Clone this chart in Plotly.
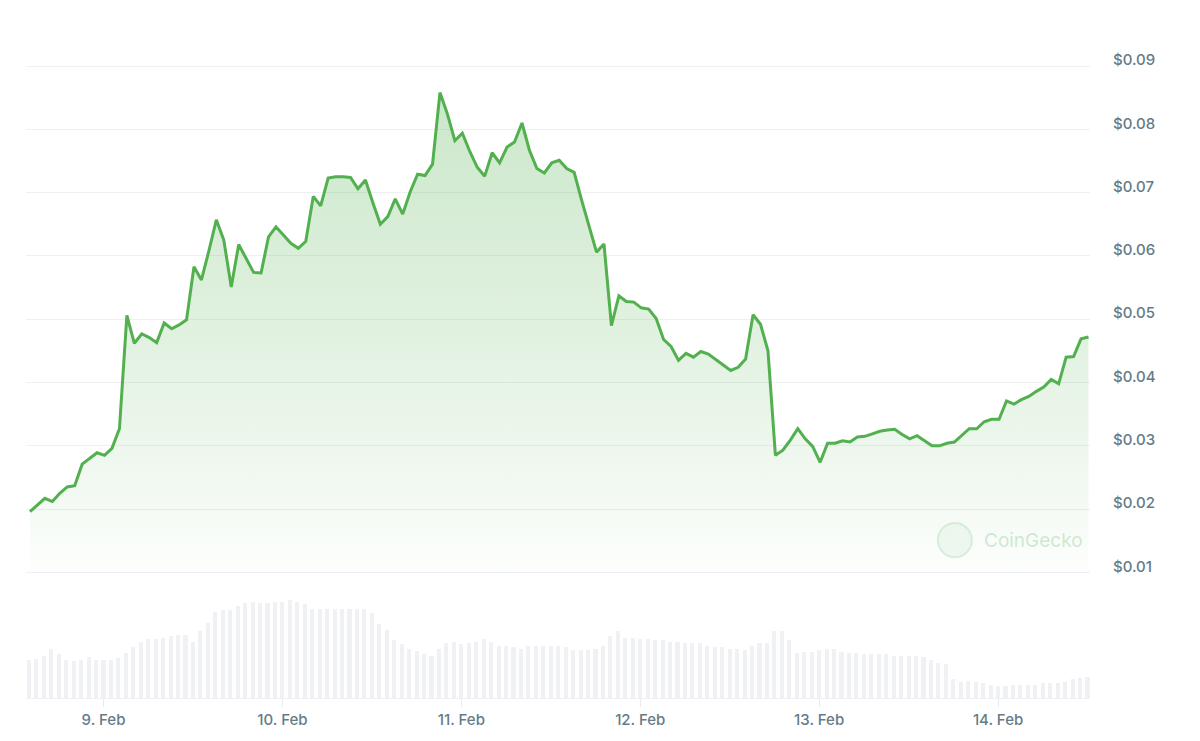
import plotly.graph_objects as go
import pandas as pd

# Hourly price (USD)
price = [
    0.0196, 0.0207, 0.0217, 0.0212, 0.0225, 0.0235, 0.0237, 0.0271, 0.0280, 0.0289,
    0.0285, 0.0296, 0.0327, 0.0506, 0.0462, 0.0477, 0.0471, 0.0463, 0.0494, 0.0485,
    0.0491, 0.0499, 0.0583, 0.0562, 0.0608, 0.0657, 0.0625, 0.0551, 0.0618, 0.0597,
    0.0574, 0.0573, 0.0630, 0.0646, 0.0633, 0.0620, 0.0612, 0.0623, 0.0694, 0.0679,
    0.0723, 0.0725, 0.0725, 0.0724, 0.0706, 0.0720, 0.0684, 0.0650, 0.0662, 0.0690,
    0.0666, 0.0701, 0.0729, 0.0727, 0.0745, 0.0858, 0.0824, 0.0782, 0.0794, 0.0765,
    0.0740, 0.0726, 0.0763, 0.0747, 0.0772, 0.0780, 0.0810, 0.0767, 0.0738, 0.0731,
    0.0747, 0.0751, 0.0738, 0.0732, 0.0688, 0.0648, 0.0606, 0.0619, 0.0490, 0.0537,
    0.0528, 0.0527, 0.0518, 0.0516, 0.0501, 0.0468, 0.0457, 0.0435, 0.0446, 0.0440,
    0.0449, 0.0445, 0.0436, 0.0428, 0.0419, 0.0424, 0.0437, 0.0507, 0.0492, 0.0450,
    0.0285, 0.0293, 0.0309, 0.0327, 0.0311, 0.0299, 0.0274, 0.0304, 0.0304, 0.0308,
    0.0306, 0.0314, 0.0315, 0.0319, 0.0323, 0.0325, 0.0326, 0.0318, 0.0311, 0.0316,
    0.0308, 0.0300, 0.0300, 0.0304, 0.0306, 0.0317, 0.0327, 0.0327, 0.0338, 0.0342,
    0.0342, 0.0371, 0.0366, 0.0373, 0.0378, 0.0386, 0.0393, 0.0405, 0.0398, 0.0440,
    0.0441, 0.0469, 0.0472,
]

# Hourly volume (relative units)
volume = [
    116, 120, 128, 150, 133, 116, 112, 116, 124, 116,
    116, 116, 121, 138, 154, 170, 180, 180, 184, 188,
    192, 192, 170, 205, 227, 263, 268, 268, 280, 288,
    293, 288, 288, 292, 292, 298, 292, 285, 272, 272,
    272, 272, 272, 272, 272, 272, 258, 226, 208, 175,
    163, 150, 142, 133, 129, 150, 166, 171, 163, 166,
    171, 179, 170, 158, 158, 154, 150, 158, 158, 158,
    158, 158, 154, 146, 146, 146, 150, 158, 188, 205,
    183, 183, 180, 180, 175, 175, 171, 171, 166, 166,
    166, 158, 154, 154, 150, 150, 146, 158, 166, 166,
    205, 205, 175, 138, 141, 141, 145, 150, 150, 141,
    138, 138, 133, 133, 133, 133, 128, 128, 128, 128,
    124, 116, 108, 103, 58, 50, 53, 50, 45, 41,
    36, 36, 40, 40, 40, 40, 45, 45, 45, 50,
    58, 62, 65,
]

price_times = pd.date_range("2024-02-08 14:08", periods=len(price), freq="h")
volume_times = pd.date_range("2024-02-08 14:00", periods=len(volume), freq="h")

x_tick_vals = ["2024-02-09", "2024-02-10", "2024-02-11", "2024-02-12", "2024-02-13", "2024-02-14"]
x_tick_text = ["9. Feb", "10. Feb", "11. Feb", "12. Feb", "13. Feb", "14. Feb"]
y_tick_vals = [0.01, 0.02, 0.03, 0.04, 0.05, 0.06, 0.07, 0.08, 0.09]
y_tick_text = ["$0.01", "$0.02", "$0.03", "$0.04", "$0.05", "$0.06", "$0.07", "$0.08", "$0.09"]

LINE = "#52b04f"
LABEL = "#657b87"
GRID = "#eef0f3"
FONT = "Inter"

fig = go.Figure()
fig.add_trace(go.Bar(
    x=volume_times, y=volume, yaxis="y2",
    marker=dict(color="#eff1f5", line=dict(width=0)),
    width=0.55 * 3600000, hoverinfo="skip",
))
fig.add_trace(go.Scatter(
    x=price_times, y=price, mode="lines",
    line=dict(color=LINE, width=3),
    fill="tozeroy",
    fillgradient=dict(
        type="vertical",
        colorscale=[[0, "rgba(82,176,79,0.0)"], [0.15, "rgba(82,176,79,0.06)"],
                    [0.5, "rgba(82,176,79,0.17)"], [1, "rgba(82,176,79,0.30)"]],
        start=0.008, stop=0.086,
    ),
    hoverinfo="skip",
))

fig.update_layout(
    width=1200, height=741,
    margin=dict(l=26, r=110, t=40, b=43),
    paper_bgcolor="white", plot_bgcolor="white",
    showlegend=False, bargap=0,
    xaxis=dict(
        type="date", anchor="y2",
        range=["2024-02-08 13:36", "2024-02-14 12:20"],
        tickvals=x_tick_vals, ticktext=x_tick_text,
        showgrid=False, zeroline=False,
        ticks="outside", ticklen=8, tickcolor="#e8ebef",
        showline=True, linecolor=GRID,
        tickfont=dict(family=FONT, size=15, color=LABEL, weight=500),
    ),
    yaxis=dict(
        domain=[0.1717, 1], range=[0.00801, 0.09411],
        side="right", anchor="x",
        tickvals=y_tick_vals, ticktext=y_tick_text,
        showgrid=True, gridcolor=GRID, gridwidth=1,
        zeroline=False, ticks="",
        ticklabelstandoff=22, ticklabelshift=-6,
        tickfont=dict(family=FONT, size=15, color=LABEL, weight=500),
    ),
    yaxis2=dict(domain=[0, 0.149], range=[0, 298], visible=False),
    annotations=[dict(
        text="CoinGecko", xref="paper", yref="paper",
        x=0.9465, y=0.24, xanchor="center", yanchor="middle", showarrow=False,
        font=dict(family=FONT, size=19, color="rgba(175,218,182,0.6)"),
    )],
    shapes=[dict(
        type="circle", xref="paper", yref="paper",
        x0=0.857, x1=0.889, y0=0.214, y1=0.266,
        line=dict(color="rgba(175,218,182,0.4)", width=2),
        fillcolor="rgba(210,236,214,0.3)",
    )],
)

fig.write_html("out.html")
